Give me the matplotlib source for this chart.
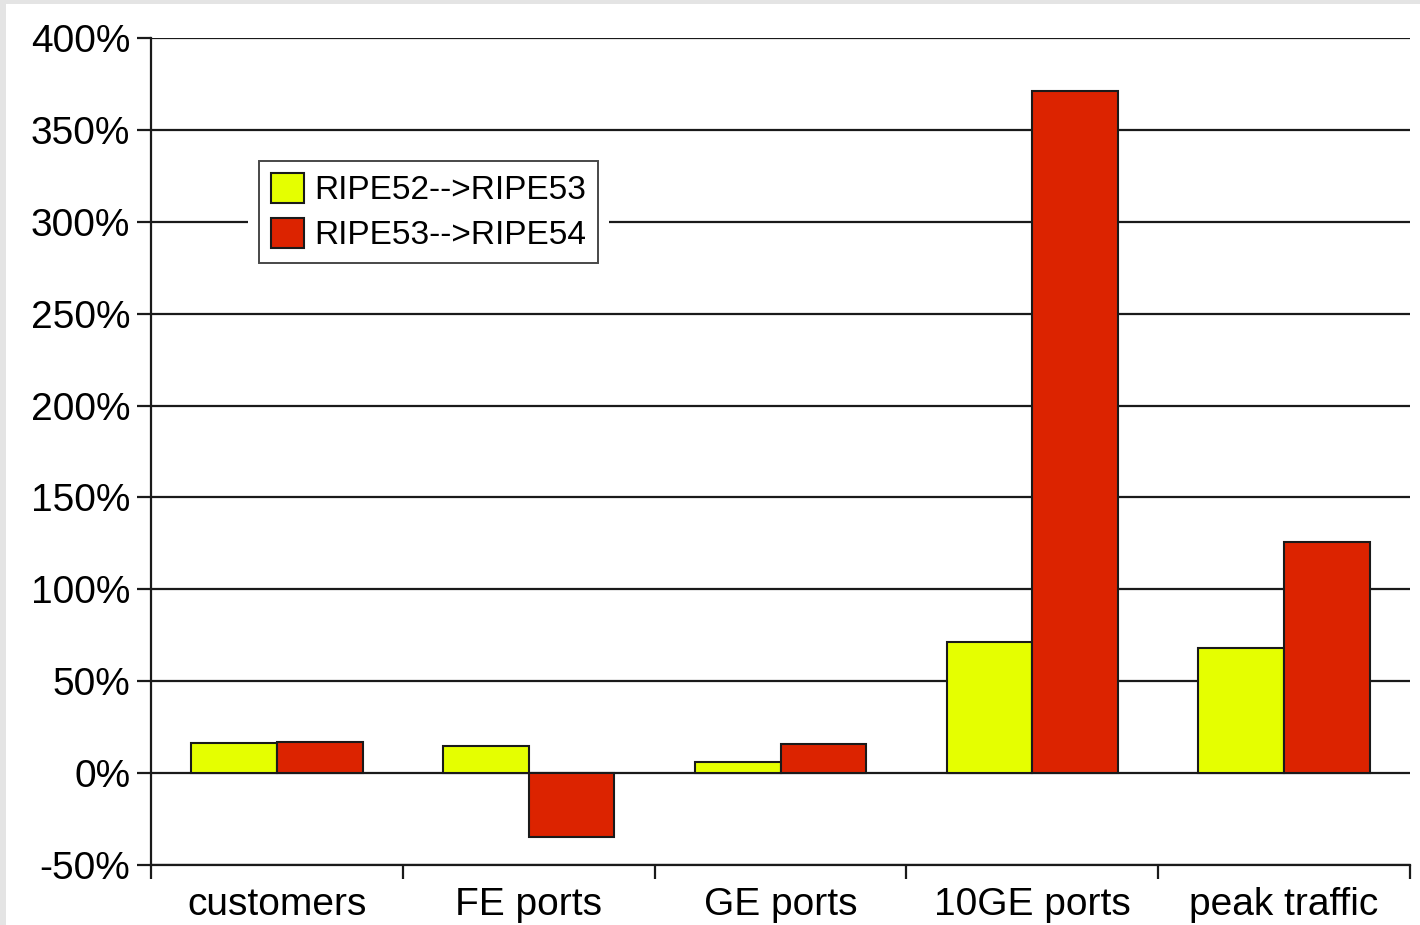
import matplotlib.pyplot as plt
import matplotlib.patches as patches
import numpy as np

categories = ['customers', 'FE ports', 'GE ports', '10GE ports', 'peak traffic']
series_names = ['RIPE52-->RIPE53', 'RIPE53-->RIPE54']
ripe52_53 = [16.3, 14.8, 6.1, 71.5, 67.9]
ripe53_54 = [17.2, -34.6, 15.9, 371.4, 125.7]
yticks = [-50, 0, 50, 100, 150, 200, 250, 300, 350, 400]

plt.rcParams['font.family'] = ['Liberation Sans', 'DejaVu Sans']

fig = plt.figure(figsize=(14.2, 9.25), dpi=100, facecolor='#e4e4e4')
# white page area with a thin grey border on the left and top
fig.patches.append(patches.Rectangle((6 / 1420, 0), 1, 1 - 4 / 925,
                                     transform=fig.transFigure,
                                     facecolor='white', edgecolor='none', zorder=-10))

ax = fig.add_axes([151 / 1420, 1 - 865 / 925, (1410 - 151) / 1420, (865 - 38) / 925])
ax.set_facecolor('none')

x = np.arange(len(categories))
w = 0.34
ax.bar(x - w / 2, ripe52_53, w, color='#e5ff00', edgecolor='#1a1a1a', linewidth=1.5,
       label=series_names[0], zorder=3)
ax.bar(x + w / 2, ripe53_54, w, color='#dc2300', edgecolor='#1a1a1a', linewidth=1.5,
       label=series_names[1], zorder=3)

ax.set_xlim(-0.5, len(categories) - 0.5)
ax.set_ylim(-50, 400)
ax.set_yticks(yticks)
ax.set_yticklabels([f'{v}%' for v in yticks], fontsize=28)
ax.yaxis.grid(True, color='#1a1a1a', linewidth=1.6, zorder=1)
ax.set_axisbelow(True)

# category labels centred, ticks at the category boundaries
ax.set_xticks(x)
ax.set_xticklabels(categories, fontsize=28)
ax.tick_params(axis='x', length=0, pad=16)
ax.set_xticks(np.arange(len(categories) + 1) - 0.5, minor=True)
ax.tick_params(axis='x', which='minor', length=10, width=1.6, color='#1a1a1a', direction='out')
ax.tick_params(axis='y', length=10, width=1.6, color='#1a1a1a', direction='out', pad=5)

for s in ['top', 'right']:
    ax.spines[s].set_visible(False)
for s in ['left', 'bottom']:
    ax.spines[s].set_color('#1a1a1a')
    ax.spines[s].set_linewidth(1.6)

# white gap in the gridline around the legend
ax.add_patch(patches.Rectangle(((248 - 151) / 1259, 1 - (270 - 38) / 827),
                               (609 - 248) / 1259, (270 - 157) / 827,
                               transform=ax.transAxes, facecolor='white',
                               edgecolor='none', zorder=2))

leg = ax.legend(loc='upper left', bbox_to_anchor=((259 - 151) / 1259, 1 - (161 - 38) / 827),
                fontsize=24, frameon=True, fancybox=False, borderaxespad=0,
                handlelength=1.0, handleheight=1.0, handletextpad=0.3,
                borderpad=0.35, labelspacing=0.35)
leg.get_frame().set_edgecolor('#1a1a1a')
leg.get_frame().set_linewidth(1.4)
leg.set_zorder(5)

plt.savefig('out.png', dpi=100, facecolor=fig.get_facecolor())
